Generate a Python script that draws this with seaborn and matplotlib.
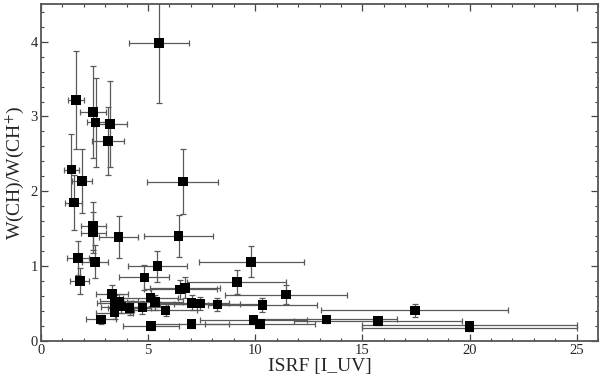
import numpy as np
import pandas as pd
import matplotlib
matplotlib.use('Agg')
import matplotlib.pyplot as plt
from matplotlib.ticker import MultipleLocator
import seaborn as sns

# 값은 그림에서 읽음
isrf = [5.51, 1.64, 2.44, 2.56, 3.24, 3.13, 1.43, 1.92, 6.62, 1.54,
        2.44, 2.44, 3.63, 6.43, 1.74, 2.54, 5.44, 9.81, 1.82, 4.83,
        9.14, 11.43, 3.32, 5.12, 6.50, 6.73, 3.46, 3.64, 3.76, 4.14,
        4.74, 5.33, 5.82, 7.03, 7.43, 8.24, 10.34, 3.44, 2.82, 5.13,
        7.03, 9.93, 10.23, 13.33, 15.73, 17.45, 20.0, 20.0]
ratio = [3.98, 3.22, 3.06, 2.92, 2.90, 2.67, 2.29, 2.14, 2.13, 1.85,
         1.54, 1.45, 1.39, 1.40, 1.11, 1.06, 1.00, 1.06, 0.80, 0.85,
         0.79, 0.62, 0.63, 0.58, 0.69, 0.71, 0.51, 0.53, 0.46, 0.44,
         0.45, 0.52, 0.41, 0.51, 0.50, 0.49, 0.48, 0.38, 0.29, 0.20,
         0.23, 0.28, 0.23, 0.29, 0.27, 0.41, 0.21, 0.18]
isrf_err = [1.40, 0.36, 0.59, 0.42, 0.78, 0.76, 0.35, 0.45, 1.65, 0.40,
            0.58, 0.58, 0.90, 1.60, 0.50, 0.60, 1.37, 2.45, 0.45, 1.17,
            2.30, 2.85, 0.76, 1.28, 1.70, 1.65, 0.85, 0.90, 0.95, 1.00,
            1.20, 1.30, 1.45, 1.75, 1.85, 2.05, 2.55, 0.85, 0.70, 1.30,
            1.75, 2.50, 2.55, 3.30, 3.93, 4.36, 5.00, 5.00]
ratio_err = [0.80, 0.65, 0.62, 0.59, 0.58, 0.45, 0.47, 0.43, 0.43, 0.37,
             0.32, 0.28, 0.28, 0.28, 0.23, 0.22, 0.21, 0.21, 0.17, 0.17,
             0.16, 0.13, 0.12, 0.11, 0.13, 0.14, 0.10, 0.10, 0.09, 0.09,
             0.09, 0.10, 0.08, 0.10, 0.09, 0.09, 0.09, 0.08, 0.06, 0.05,
             0.05, 0.05, 0.05, 0.05, 0.05, 0.09, 0.04, 0.04]

df = pd.DataFrame({'isrf': isrf, 'ratio': ratio,
                   'isrf_err': isrf_err, 'ratio_err': ratio_err})

sns.set_style('ticks')
plt.rcParams['font.family'] = ['Liberation Serif', 'DejaVu Serif']
plt.rcParams['mathtext.fontset'] = 'stix'

fig = plt.figure(figsize=(6, 3.79), dpi=100)
ax = fig.add_axes([0.068, 0.100, 0.929, 0.889])

# 오차 막대
ax.errorbar(df['isrf'], df['ratio'], xerr=df['isrf_err'], yerr=df['ratio_err'],
            fmt='none', ecolor='#5a5a5a', elinewidth=0.9, capsize=2.2,
            capthick=0.9, zorder=2)

sns.scatterplot(data=df, x='isrf', y='ratio', marker='s', s=48,
                color='black', edgecolor='none', ax=ax, zorder=3)

ax.set_xlim(0, 26)
ax.set_ylim(0, 4.5)
ax.xaxis.set_major_locator(MultipleLocator(5))
ax.xaxis.set_minor_locator(MultipleLocator(1))
ax.yaxis.set_major_locator(MultipleLocator(1))
ax.yaxis.set_minor_locator(MultipleLocator(0.2))
ax.tick_params(which='both', direction='in', top=True, right=True,
               labelsize=10.5, color='#444444', pad=2)
ax.tick_params(which='major', length=5, width=0.9)
ax.tick_params(which='minor', length=2.5, width=0.8)
for sp in ax.spines.values():
    sp.set_color('#555555')
    sp.set_linewidth(1.3)

ax.set_xlabel('ISRF [I_UV]', fontsize=14, labelpad=1)
ax.set_ylabel(r'W(CH)/W(CH$^{+}$)', fontsize=14, labelpad=3)

plt.savefig('out.png', dpi=100)
